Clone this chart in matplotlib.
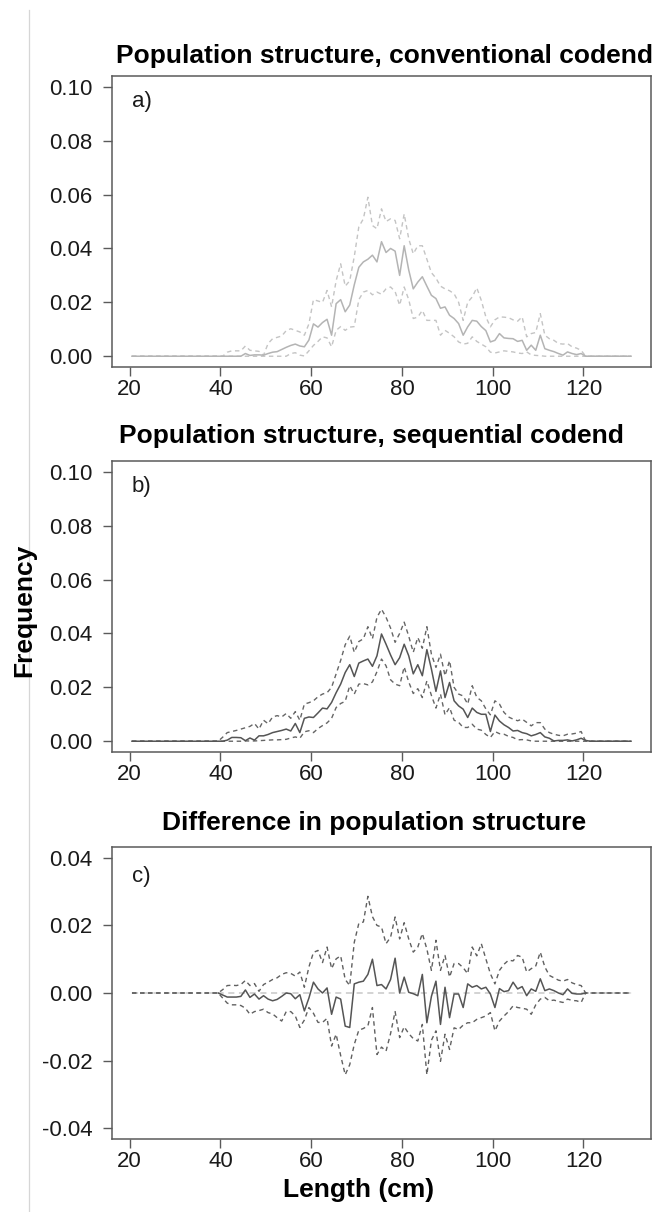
import numpy as np
import matplotlib
matplotlib.use("Agg")
import matplotlib.pyplot as plt
from matplotlib.lines import Line2D

plt.rcParams['font.family'] = ['Liberation Sans', 'DejaVu Sans']

nan = float('nan')

# ---------------- data ----------------
lengths = np.arange(20.5, 131.0, 1.0)   # length classes (cm), 111 values

conv_mean = [
    0, 0, 0, 0, 0, 0, 0, 0, 0, 0,
    0, 0, 0, 0, 0, 0, 0, 0, 0, 0,
    0, 0, 0, 0, 0, 0.001, 0.0003, 0.0005, 0.0005, 0.0004,
    0.001, 0.0015, 0.0017, 0.0025, 0.0033, 0.004, 0.0045, 0.0038, 0.0035, 0.006,
    0.012, 0.0108, 0.0125, 0.0137, 0.0078, 0.0195, 0.021, 0.0165, 0.019, 0.0265,
    0.033, 0.035, 0.036, 0.0375, 0.035, 0.0425, 0.0385, 0.040, 0.039, 0.030,
    0.041, 0.032, 0.025, 0.0275, 0.0295, 0.026, 0.0226, 0.0214, 0.0178, 0.0183,
    0.0152, 0.014, 0.0121, 0.0078, 0.0109, 0.0133, 0.013, 0.011, 0.0095, 0.0053,
    0.0059, 0.0084, 0.0068, 0.0066, 0.0065, 0.0055, 0.0059, 0.0022, 0.0041, 0.0022,
    0.0078, 0.0028, 0.0022, 0.0017, 0.001, 0.0004, 0.0016, 0.001, 0.0006, 0.001,
    0,
    0, 0, 0, 0, 0, 0, 0, 0, 0, 0]
conv_hi = [
    0, 0, 0, 0, 0, 0, 0, 0, 0, 0,
    0, 0, 0, 0, 0, 0, 0, 0, 0, 0,
    0, 0.0015, 0.002, 0.002, 0.002, 0.0038, 0.0022, 0.002, 0.0018, 0.0004,
    0.0047, 0.0065, 0.007, 0.0075, 0.0095, 0.0102, 0.0096, 0.009, 0.0078, 0.012,
    0.021, 0.0205, 0.020, 0.0244, 0.0183, 0.028, 0.0343, 0.026, 0.028, 0.037,
    0.048, 0.051, 0.059, 0.0485, 0.0473, 0.0547, 0.050, 0.051, 0.0504, 0.0436,
    0.0528, 0.0436, 0.038, 0.041, 0.041, 0.036, 0.031, 0.029, 0.026, 0.025,
    0.0243, 0.0232, 0.020, 0.0133, 0.020, 0.022, 0.0254, 0.0207, 0.0146, 0.0109,
    0.0135, 0.0146, 0.0145, 0.0143, 0.0135, 0.013, 0.0146, 0.0072, 0.0084, 0.0088,
    0.0158, 0.0078, 0.0065, 0.0059, 0.0047, 0.0045, 0.0047, 0.0035, 0.003, 0.0022,
    0,
    0, 0, 0, 0, 0, 0, 0, 0, 0, 0]
conv_lo = [
    0, 0, 0, 0, 0, 0, 0, 0, 0, 0,
    0, 0, 0, 0, 0, 0, 0, 0, 0, 0,
    0, 0, 0, 0, 0, 0, 0, 0, 0, 0,
    0, 0, 0, 0, 0, 0.001, 0.0013, 0.0004, 0.0001, 0.002,
    0.004, 0.0055, 0.0072, 0.0068, 0.0035, 0.0096, 0.011, 0.0096, 0.0108, 0.011,
    0.021, 0.0238, 0.0244, 0.0228, 0.0238, 0.023, 0.025, 0.0257, 0.024, 0.0189,
    0.0257, 0.021, 0.014, 0.0145, 0.017, 0.0133, 0.0133, 0.0133, 0.0078, 0.0096,
    0.0085, 0.0072, 0.0053, 0.0045, 0.0048, 0.0072, 0.0055, 0.0045, 0.0035, 0.0015,
    0.0012, 0.0016, 0.002, 0.0018, 0.0016, 0.0012, 0.001, 0.0016, 0.0005, 0.0003,
    0.0002, 0, 0, 0, 0, 0, 0, 0, 0, 0,
    0,
    0, 0, 0, 0, 0, 0, 0, 0, 0, 0]

seq_mean = [
    0, 0, 0, 0, 0, 0, 0, 0, 0, 0,
    0, 0, 0, 0, 0, 0, 0, 0, 0, 0,
    0, 0.0004, 0.0014, 0.0014, 0.0013, 0.0002, 0.0012, 0.0004, 0.002, 0.002,
    0.0025, 0.0032, 0.0036, 0.004, 0.0045, 0.0038, 0.0066, 0.0032, 0.0085, 0.009,
    0.0088, 0.0105, 0.0123, 0.012, 0.0144, 0.018, 0.0212, 0.0255, 0.0284, 0.024,
    0.029, 0.0298, 0.0305, 0.0278, 0.0317, 0.0398, 0.036, 0.032, 0.0284, 0.031,
    0.036, 0.0317, 0.025, 0.0284, 0.0243, 0.034, 0.0268, 0.0185, 0.0261, 0.0162,
    0.0218, 0.015, 0.0131, 0.0119, 0.0088, 0.0123, 0.0107, 0.010, 0.010, 0.0036,
    0.0097, 0.0075, 0.0061, 0.0051, 0.0038, 0.004, 0.0032, 0.0028, 0.002, 0.0025,
    0.0032, 0.0016, 0.0011, 0.0001, 0.0003, 0.0003, 0.0005, 0.0001, 0.0005, 0.0011,
    0.0003,
    0, 0, 0, 0, 0, 0, 0, 0, 0, 0]
seq_hi = [
    0, 0, 0, 0, 0, 0, 0, 0, 0, 0,
    0, 0, 0, 0, 0, 0, 0, 0, 0, 0,
    0.0015, 0.0032, 0.0036, 0.004, 0.0045, 0.005, 0.0055, 0.0066, 0.0045, 0.0078,
    0.0065, 0.009, 0.0095, 0.009, 0.0103, 0.0085, 0.011, 0.0078, 0.0138, 0.0143,
    0.015, 0.0165, 0.0175, 0.018, 0.020, 0.025, 0.030, 0.0358, 0.039, 0.033,
    0.037, 0.038, 0.0425, 0.038, 0.046, 0.049, 0.046, 0.042, 0.0367, 0.040,
    0.0442, 0.039, 0.033, 0.0385, 0.0345, 0.0425, 0.0323, 0.0274, 0.0323, 0.0243,
    0.0299, 0.020, 0.0175, 0.0168, 0.0138, 0.0206, 0.0163, 0.015, 0.012, 0.0098,
    0.015, 0.0138, 0.0107, 0.009, 0.0082, 0.0076, 0.0082, 0.007, 0.0057, 0.0069,
    0.0069, 0.0045, 0.0032, 0.0026, 0.0022, 0.002, 0.0026, 0.0027, 0.003, 0.0036,
    0,
    0, 0, 0, 0, 0, 0, 0, 0, 0, 0]
seq_lo = [
    0, 0, 0, 0, 0, 0, 0, 0, 0, 0,
    0, 0, 0, 0, 0, 0, 0, 0, 0, 0,
    0, 0, 0, 0, 0, 0.0001, 0.0001, 0.0001, 0.0002, 0.0003,
    0.0004, 0.0005, 0.0005, 0.0006, 0.0007, 0.0012, 0.0016, 0.0011, 0.0035, 0.0039,
    0.0032, 0.0047, 0.0058, 0.0068, 0.0085, 0.0125, 0.014, 0.0148, 0.0206, 0.0175,
    0.0212, 0.0214, 0.0209, 0.022, 0.0258, 0.0305, 0.028, 0.0228, 0.0212, 0.0206,
    0.0276, 0.022, 0.0177, 0.0195, 0.0162, 0.0224, 0.017, 0.0123, 0.0175, 0.0098,
    0.0125, 0.0078, 0.007, 0.0051, 0.0051, 0.0063, 0.0045, 0.0041, 0.0025, 0.0014,
    0.0036, 0.0028, 0.0026, 0.0018, 0.0014, 0.0005, 0.0006, 0.0005, 0.0001, 0,
    0, 0, 0, 0, 0, 0, 0, 0, 0, 0,
    0,
    0, 0, 0, 0, 0, 0, 0, 0, 0, 0]

diff_mean = [
    nan, nan, nan, nan, nan, nan, nan, nan, nan, nan,
    nan, nan, nan, nan, nan, nan, nan, nan, nan, 0,
    -0.0006, -0.0012, -0.0012, -0.0012, -0.001, 0.0009, -0.0013, -0.0003, -0.0018, -0.0008,
    -0.0018, -0.0023, -0.0019, -0.001, 0, -0.0002, -0.0017, -0.0005, -0.0053, -0.0015,
    0.0032, 0.0012, 0.0, 0.0015, -0.0063, -0.0012, -0.0018, -0.0098, -0.0102, 0.0027,
    0.0032, 0.0035, 0.0055, 0.010, 0.0022, 0.0025, 0.0012, 0.004, 0.0103, 0.0,
    0.0047, 0.0002, -0.0002, -0.0008, 0.0055, -0.0088, -0.001, 0.0035, -0.0093, 0.0017,
    -0.0073, -0.0003, -0.0003, -0.0043, 0.0027, 0.0017, 0.0022, 0.0012, 0.0017, -0.0003,
    -0.0043, 0.0013, 0.0004, 0.0007, 0.0032, 0.0012, 0.0019, -0.0008, 0.0012, 0.0005,
    0.0042, 0.0007, 0.0012, 0.0007, 0.0, -0.0005, 0.0012, -0.0001, -0.0003, -0.0003,
    0,
    nan, nan, nan, nan, nan, nan, nan, nan, nan, nan]
diff_hi = [
    0, 0, 0, 0, 0, 0, 0, 0, 0, 0,
    0, 0, 0, 0, 0, 0, 0, 0, 0, 0,
    0.001, 0.0022, 0.0023, 0.0022, 0.0025, 0.0037, 0.0022, 0.0028, 0.0005, 0.0025,
    0.0032, 0.004, 0.0045, 0.0055, 0.006, 0.0058, 0.005, 0.0062, 0.0017, 0.0077,
    0.012, 0.0126, 0.009, 0.0136, 0.0072, 0.0101, 0.011, 0.004, 0.0022, 0.015,
    0.0206, 0.021, 0.0286, 0.0226, 0.020, 0.0195, 0.0146, 0.0165, 0.0225, 0.016,
    0.0208, 0.016, 0.0121, 0.0136, 0.0176, 0.013, 0.0067, 0.0156, 0.0067, 0.0111,
    0.0047, 0.0087, 0.0087, 0.0075, 0.0057, 0.0136, 0.011, 0.0146, 0.0101, 0.0057,
    0.0027, 0.0067, 0.0085, 0.0097, 0.0095, 0.0111, 0.0106, 0.0062, 0.0072, 0.008,
    0.0121, 0.0077, 0.0052, 0.0045, 0.0038, 0.0035, 0.004, 0.003, 0.0025, 0.0022,
    0,
    0, 0, 0, 0, 0, 0, 0, 0, 0, 0]
diff_lo = [
    0, 0, 0, 0, 0, 0, 0, 0, 0, 0,
    0, 0, 0, 0, 0, 0, 0, 0, 0, 0,
    -0.0015, -0.003, -0.0035, -0.0035, -0.0037, -0.0045, -0.0063, -0.0055, -0.0052, -0.0048,
    -0.0058, -0.0062, -0.0073, -0.0083, -0.0055, -0.0055, -0.0068, -0.0102, -0.008, -0.0043,
    -0.006, -0.0087, -0.0087, -0.0075, -0.0157, -0.0122, -0.0185, -0.0242, -0.0212, -0.0152,
    -0.011, -0.0105, -0.0097, -0.0043, -0.0182, -0.016, -0.0172, -0.012, -0.0055, -0.0132,
    -0.010, -0.012, -0.0135, -0.0142, -0.0093, -0.0242, -0.014, -0.0112, -0.0202, -0.0122,
    -0.0167, -0.0103, -0.0108, -0.0095, -0.0088, -0.0088, -0.0078, -0.0073, -0.0068, -0.0058,
    -0.0112, -0.0083, -0.0068, -0.0055, -0.0038, -0.0043, -0.0045, -0.0048, -0.0063, -0.0035,
    -0.0018, -0.0013, -0.0023, -0.0021, -0.0025, -0.0028, -0.0018, -0.0022, -0.0023, -0.0028,
    0,
    0, 0, 0, 0, 0, 0, 0, 0, 0, 0]
diff_zero = [0.0, 0.0]

x_ticks = [20, 40, 60, 80, 100, 120]
x_ticklabels = ["20", "40", "60", "80", "100", "120"]
freq_ticks = [0.00, 0.02, 0.04, 0.06, 0.08, 0.10]
freq_ticklabels = ["0.00", "0.02", "0.04", "0.06", "0.08", "0.10"]
diff_ticks = [-0.04, -0.02, 0.00, 0.02, 0.04]
diff_ticklabels = ["-0.04", "-0.02", "0.00", "0.02", "0.04"]

titles = ["Population structure, conventional codend",
          "Population structure, sequential codend",
          "Difference in population structure"]
panel_tags = ["a)", "b)", "c)"]

# ---------------- figure ----------------
W, H = 670, 1212
fig = plt.figure(figsize=(W / 100, H / 100), dpi=100)

def px_axes(left, right, top, bottom):
    return fig.add_axes([left / W, 1 - bottom / H, (right - left) / W, (bottom - top) / H])

ax_a = px_axes(112, 651, 76, 367)
ax_b = px_axes(112, 651, 461, 752)
ax_c = px_axes(112, 651, 847, 1139)

box_col = "#5a5a5a"
dash = (3.2, 2.6)

def style(ax, yticks, ylabels, ylim):
    ax.set_xlim(16.1, 134.9)
    ax.set_ylim(*ylim)
    ax.set_xticks(x_ticks)
    ax.set_xticklabels(x_ticklabels)
    ax.set_yticks(yticks)
    ax.set_yticklabels(ylabels)
    for s in ax.spines.values():
        s.set_color(box_col)
        s.set_linewidth(1.1)
    ax.tick_params(axis='both', direction='out', length=6.5, width=1.0,
                   color=box_col, labelsize=16, labelcolor="#1a1a1a")
    ax.tick_params(axis='y', pad=7.5)
    ax.tick_params(axis='x', pad=2.0)

# panel a
ax_a.plot(lengths, conv_hi, color="#c4c4c4", lw=1.0, dashes=dash)
ax_a.plot(lengths, conv_lo, color="#c4c4c4", lw=1.0, dashes=dash)
ax_a.plot(lengths, conv_mean, color="#b4b4b4", lw=1.1)
style(ax_a, freq_ticks, freq_ticklabels, (-0.004, 0.104))

# panel b
ax_b.plot(lengths, seq_hi, color="#666666", lw=1.0, dashes=dash)
ax_b.plot(lengths, seq_lo, color="#666666", lw=1.0, dashes=dash)
ax_b.plot(lengths, seq_mean, color="#555555", lw=1.1)
style(ax_b, freq_ticks, freq_ticklabels, (-0.004, 0.104))

# panel c
ax_c.plot([lengths[0], lengths[-1]], diff_zero, color="#c8c8c8", lw=1.1, dashes=(4, 3))
ax_c.plot(lengths, diff_hi, color="#606060", lw=1.0, dashes=dash)
ax_c.plot(lengths, diff_lo, color="#606060", lw=1.0, dashes=dash)
ax_c.plot(lengths, diff_mean, color="#555555", lw=1.1)
style(ax_c, diff_ticks, diff_ticklabels, (-0.0432, 0.0432))

# titles
ax_a.set_title(titles[0], fontsize=19, fontweight='bold', x=0.505, pad=9.5)
ax_b.set_title(titles[1], fontsize=19, fontweight='bold', x=0.482, pad=13)
ax_c.set_title(titles[2], fontsize=19, fontweight='bold', x=0.487, pad=12)

# panel tags
for ax, tag, yf in zip([ax_a, ax_b, ax_c], panel_tags, [0.914, 0.912, 0.90]):
    ax.text(0.037, yf, tag, transform=ax.transAxes, fontsize=16, ha='left', va='center',
            color="#1a1a1a")

# axis labels
fig.text(24.5 / W, 1 - 610 / H, "Frequency", rotation=90, fontsize=19, fontweight='bold',
         ha='center', va='center')
fig.text(359 / W, 1 - 1197 / H, "Length (cm)", fontsize=19, fontweight='bold',
         ha='center', va='baseline')

# thin grey border line at left of the page
fig.add_artist(Line2D([29 / W, 29 / W], [0, 1 - 10 / H], transform=fig.transFigure,
                      color="#d6d6d6", lw=0.9))

fig.savefig("out.png", dpi=100)
